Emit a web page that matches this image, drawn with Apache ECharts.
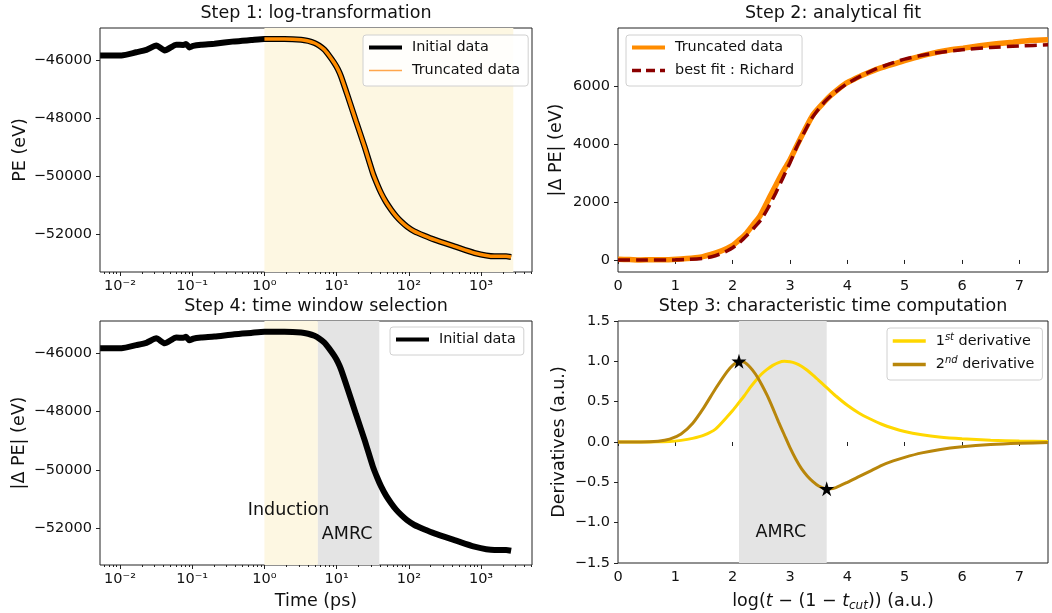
<!DOCTYPE html>
<html>
<head>
<meta charset="utf-8">
<script src="https://cdn.jsdelivr.net/npm/echarts@6.0.0/dist/echarts.min.js"></script>
<style>
  html, body { margin: 0; padding: 0; background: #fff; }
  #chart { width: 1052px; height: 613px; }
</style>
</head>
<body>
<div id="chart"></div>
<script>
// --- data ---
// initial potential energy trace (time in ps, PE in eV)
const timePs = [0.0053, 0.0105, 0.0168, 0.0232, 0.0318, 0.0415, 0.0602, 0.075, 0.082, 0.0915, 0.103, 0.133, 0.203, 0.384, 0.654, 1.0,
  1.89, 3.22, 4.03, 4.93, 5.72, 6.77, 7.85, 9.3, 10.4, 11.5, 14.3, 18.6, 24.3, 31.7, 36.3, 41.3, 48.4, 56.9, 66.6, 78.2,
  94.5, 119.5, 162, 226, 428, 810, 1534, 2225, 2610];
const peInitial = [-45828, -45828, -45720, -45640, -45484, -45656, -45460, -45470, -45435, -45553, -45500, -45460, -45425, -45346, -45300, -45263,
  -45263, -45287, -45330, -45401, -45490, -45632, -45830, -46090, -46300, -46550, -47239, -48100, -48960, -49876, -50250, -50564, -50880, -51139, -51360, -51542,
  -51720, -51886, -52030, -52172, -52402, -52629, -52746, -52746, -52770];
const truncStartPs = 1;
const truncEndPs = 2800;

// step 2: |dPE| vs log-time
const truncX = [0, 0.2, 0.38, 0.6, 0.8, 1.02, 1.2, 1.35, 1.48, 1.62, 1.77, 1.9, 2.01, 2.12, 2.24, 2.35, 2.47, 2.56, 2.65, 2.76, 2.88, 3.0,
  3.11, 3.25, 3.4, 3.55, 3.69, 3.84, 3.98, 4.13, 4.28, 4.57, 4.86, 5.15, 5.44, 5.73, 6.02, 6.31, 6.6, 6.89, 7.18, 7.5];
const truncY = [23, 15, 0, 10, 5, 23, 50, 80, 115, 190, 287, 400, 517, 700, 919, 1200, 1494, 1830, 2183, 2600, 3050, 3450,
  3900, 4450, 4998, 5340, 5630, 5880, 6090, 6240, 6377, 6607, 6779, 6951, 7101, 7216, 7296, 7377, 7446, 7503, 7560, 7583];
const fitX = [0, 0.5, 1.0, 1.25, 1.5, 1.65, 1.8, 1.9, 2.0, 2.12, 2.25, 2.37, 2.5, 2.62, 2.75, 2.87, 3.0, 3.12, 3.25, 3.37, 3.5,
  3.62, 3.75, 3.87, 4.0, 4.25, 4.5, 4.75, 5.0, 5.25, 5.5, 6.0, 6.5, 7.0, 7.5];
const fitY = [0, 0, 5, 25, 60, 120, 220, 310, 420, 600, 850, 1100, 1400, 1800, 2300, 2800, 3350, 3900, 4400, 4850, 5200,
  5480, 5720, 5900, 6080, 6350, 6580, 6760, 6920, 7030, 7120, 7240, 7320, 7370, 7410];

// step 3: normalised derivatives
const derivX = [0, 0.4, 0.7, 0.9, 1.1, 1.3, 1.5, 1.7, 1.9, 2.0, 2.1, 2.2, 2.3, 2.4, 2.5, 2.6, 2.7, 2.8, 2.9, 3.0,
  3.1, 3.2, 3.3, 3.4, 3.5, 3.6, 3.7, 3.8, 4.0, 4.2, 4.4, 4.6, 4.8, 5.0, 5.3, 5.6, 6.0, 6.5, 7.0, 7.5];
const firstDeriv = [0, 0, 0.002, 0.005, 0.02, 0.045, 0.085, 0.16, 0.31, 0.39, 0.48, 0.57, 0.67, 0.76, 0.84, 0.90, 0.95, 0.985, 1.0, 0.995,
  0.975, 0.94, 0.89, 0.83, 0.765, 0.70, 0.635, 0.57, 0.455, 0.36, 0.285, 0.22, 0.17, 0.13, 0.09, 0.062, 0.04, 0.022, 0.012, 0.006];
const secondDeriv = [0, 0, 0.01, 0.035, 0.10, 0.23, 0.43, 0.66, 0.87, 0.95, 0.995, 0.99, 0.93, 0.84, 0.72, 0.58, 0.42, 0.25, 0.09, -0.07,
  -0.21, -0.33, -0.42, -0.49, -0.545, -0.575, -0.58, -0.565, -0.50, -0.43, -0.36, -0.29, -0.235, -0.19, -0.135, -0.095, -0.06, -0.032, -0.016, -0.007];
const extremaPoints = [[2.11, 1.0], [3.64, -0.58]];
const amrcStart = 2.11;
const amrcEnd = 3.64;

// step 4: windows on the time axis
const inductionWindowPs = [1, 5.5];
const amrcWindowPs = [5.5, 39];

// tick labels
const logTickValues = [0.01, 0.1, 1, 10, 100, 1000];
const logTickLabels = ['10⁻²', '10⁻¹', '10⁰', '10¹', '10²', '10³'];
const peTicks = [-52000, -50000, -48000, -46000];
const dpeTicks = [0, 2000, 4000, 6000];
const logAxisTicks = [0, 1, 2, 3, 4, 5, 6, 7];

const minorLogTicks = [];
for (let k = -3; k <= 3; k++) {
  for (let m = 2; m <= 9; m++) minorLogTicks.push(m * Math.pow(10, k));
}

// --- chart ---
const FONT = 'DejaVu Sans';
const INK = '#111';
const toPairs = (xs, ys) => xs.map((x, i) => [x, ys[i]]);
const minus = v => String(v).replace('-', '−');
const logLabel = v => {
  const i = logTickValues.findIndex(t => Math.abs(Math.log10(t) - Math.log10(v)) < 1e-6);
  return i >= 0 ? logTickLabels[i] : '';
};

const grids = [
  { left: 100, top: 28, width: 432, height: 244 },   // step 1
  { left: 618, top: 28, width: 430, height: 244 },   // step 2
  { left: 100, top: 321, width: 432, height: 244 },  // step 4
  { left: 618, top: 321, width: 430, height: 244 }   // step 3
].map(g => Object.assign(g, { show: true, borderColor: '#222', borderWidth: 1, backgroundColor: 'transparent' }));

const tickLabel = { color: INK, fontSize: 14.5, fontFamily: FONT };
const axisName = { color: INK, fontSize: 17.5, fontFamily: FONT };
const tick = { show: true, length: 4, lineStyle: { color: '#222' } };

function logAxis(gridIndex, name) {
  return [{
    type: 'log', gridIndex, position: 'bottom', min: 0.00528, max: 5080, logBase: 10,
    name: name || '', nameLocation: 'middle', nameGap: 27, nameTextStyle: axisName,
    axisLine: { show: false },
    axisTick: Object.assign({ customValues: logTickValues }, tick),
    axisLabel: Object.assign({ customValues: logTickValues, margin: 7, formatter: logLabel }, tickLabel),
    splitLine: { show: false }
  }, {
    type: 'log', gridIndex, position: 'bottom', min: 0.00528, max: 5080, logBase: 10,
    axisLine: { show: false },
    axisTick: { show: true, length: 2, customValues: minorLogTicks, lineStyle: { color: '#222' } },
    axisLabel: { show: false },
    splitLine: { show: false }
  }];
}

function linAxis(gridIndex, name) {
  return {
    type: 'value', gridIndex, min: 0, max: 7.5,
    name: name || '', nameLocation: 'middle', nameGap: 27,
    nameTextStyle: Object.assign({
      rich: {
        i: { fontStyle: 'italic', fontSize: 17.5, fontFamily: FONT, color: INK },
        sub: { fontStyle: 'italic', fontSize: 12, fontFamily: FONT, color: INK, padding: [10, 0, 0, 0] }
      }
    }, axisName),
    axisLine: { show: false },
    axisTick: Object.assign({ customValues: logAxisTicks }, tick),
    axisLabel: Object.assign({ customValues: logAxisTicks, margin: 7 }, tickLabel),
    splitLine: { show: false }
  };
}

const legendBase = {
  orient: 'vertical', itemWidth: 33, itemHeight: 14, itemGap: 6,
  backgroundColor: 'rgba(255,255,255,0.85)', borderColor: '#d0d0d0', borderWidth: 1, borderRadius: 3,
  padding: [4, 8, 7, 4],
  itemStyle: { opacity: 0 },
  textStyle: { color: INK, fontSize: 14.4, fontFamily: FONT, lineHeight: 17, padding: [0, 0, 0, 5],
    rich: { sup: { fontSize: 10, fontStyle: 'italic', fontFamily: FONT, color: INK, padding: [0, 0, 8, 0] } } }
};

const titleStyle = { fontSize: 17.5, fontWeight: 'normal', color: INK, fontFamily: FONT };
const noteLabel = { show: true, position: [0, 0], align: 'center', verticalAlign: 'middle', opacity: 1,
  color: INK, fontSize: 17.5, fontFamily: FONT, formatter: p => p.data[2] };
const lineCommon = { type: 'line', symbol: 'none', smooth: 0.2 };

const option = {
  animation: false,
  backgroundColor: '#fff',
  title: [
    { text: 'Step 1: log-transformation', left: 316, top: 4, textAlign: 'center', padding: 0, textStyle: titleStyle },
    { text: 'Step 2: analytical fit', left: 833, top: 4, textAlign: 'center', padding: 0, textStyle: titleStyle },
    { text: 'Step 4: time window selection', left: 316, top: 297, textAlign: 'center', padding: 0, textStyle: titleStyle },
    { text: 'Step 3: characteristic time computation', left: 833, top: 297, textAlign: 'center', padding: 0, textStyle: titleStyle }
  ],
  grid: grids,
  legend: [
    Object.assign({}, legendBase, { left: 363, top: 35, data: [
      { name: 'Initial data', lineStyle: { width: 4, color: '#000' } },
      { name: 'Truncated data', lineStyle: { width: 1.5, color: '#ffa64d' } }
    ] }),
    Object.assign({}, legendBase, { left: 626, top: 35, data: [
      { name: 'Truncated data', lineStyle: { width: 4, color: '#ff8c00' } },
      { name: 'best fit : Richard', lineStyle: { width: 3.5, color: '#8b0000', type: [9, 5] } }
    ] }),
    Object.assign({}, legendBase, { left: 390, top: 327, data: [
      { name: 'Initial data', lineStyle: { width: 4, color: '#000' } }
    ] }),
    Object.assign({}, legendBase, { left: 887, top: 328, data: [
      { name: '1st derivative', lineStyle: { width: 3.5, color: '#ffd700' } },
      { name: '2nd derivative', lineStyle: { width: 3.5, color: '#b8860b' } }
    ], formatter: n => n === '1st derivative' ? '1{sup|st} derivative' : '2{sup|nd} derivative' })
  ],
  xAxis: [
    ...logAxis(0),
    linAxis(1),
    ...logAxis(2, 'Time (ps)'),
    linAxis(3, 'log({i|t} − (1 − {i|t}{sub|cut})) (a.u.)')
  ],
  yAxis: [
    { type: 'value', gridIndex: 0, min: -53284, max: -44885, name: 'PE (eV)', nameLocation: 'middle', nameGap: 70,
      nameTextStyle: axisName, axisLine: { show: false }, splitLine: { show: false },
      axisTick: Object.assign({ customValues: peTicks }, tick),
      axisLabel: Object.assign({ customValues: peTicks, margin: 8, formatter: minus }, tickLabel) },
    { type: 'value', gridIndex: 1, min: -414, max: 7990, name: '|Δ PE| (eV)', nameLocation: 'middle', nameGap: 53,
      nameTextStyle: axisName, axisLine: { show: false }, splitLine: { show: false },
      axisTick: Object.assign({ customValues: dpeTicks }, tick),
      axisLabel: Object.assign({ customValues: dpeTicks, margin: 8, formatter: minus }, tickLabel) },
    { type: 'value', gridIndex: 2, min: -53258, max: -44892, name: '|Δ PE| (eV)', nameLocation: 'middle', nameGap: 72,
      nameTextStyle: axisName, axisLine: { show: false }, splitLine: { show: false },
      axisTick: Object.assign({ customValues: peTicks }, tick),
      axisLabel: Object.assign({ customValues: peTicks, margin: 8, formatter: minus }, tickLabel) },
    { type: 'value', gridIndex: 3, min: -1.5, max: 1.5, interval: 0.5, name: 'Derivatives (a.u.)', nameLocation: 'middle', nameGap: 50,
      nameTextStyle: axisName, axisLine: { show: false }, splitLine: { show: false },
      axisTick: tick,
      axisLabel: Object.assign({ margin: 8, formatter: v => minus(v.toFixed(1)) }, tickLabel) }
  ],
  series: [
    // step 1
    { type: 'line', xAxisIndex: 0, yAxisIndex: 0, data: [], z: 1, silent: true,
      markArea: { silent: true, itemStyle: { color: '#fdf7e2' }, data: [[{ xAxis: truncStartPs }, { xAxis: truncEndPs }]] } },
    Object.assign({ name: 'Initial data', xAxisIndex: 0, yAxisIndex: 0,
      lineStyle: { color: '#000', width: 6 }, data: toPairs(timePs, peInitial) }, lineCommon),
    Object.assign({ name: 'Truncated data', xAxisIndex: 0, yAxisIndex: 0,
      lineStyle: { color: '#ff8c00', width: 3.5 },
      data: toPairs(timePs, peInitial).filter(p => p[0] >= truncStartPs) }, lineCommon),
    // step 2
    Object.assign({ name: 'Truncated data', xAxisIndex: 2, yAxisIndex: 1,
      lineStyle: { color: '#ff8c00', width: 5.5 }, data: toPairs(truncX, truncY) }, lineCommon),
    Object.assign({ name: 'best fit : Richard', xAxisIndex: 2, yAxisIndex: 1,
      lineStyle: { color: '#8b0000', width: 3.5, type: [12, 6] }, data: toPairs(fitX, fitY) }, lineCommon),
    // step 4
    { type: 'line', xAxisIndex: 3, yAxisIndex: 2, data: [], z: 1, silent: true,
      markArea: { silent: true, data: [
        [{ xAxis: inductionWindowPs[0], itemStyle: { color: '#fdf7e2' } }, { xAxis: inductionWindowPs[1] }],
        [{ xAxis: amrcWindowPs[0], itemStyle: { color: '#e4e4e4' } }, { xAxis: amrcWindowPs[1] }]
      ] } },
    Object.assign({ name: 'Initial data', xAxisIndex: 3, yAxisIndex: 2,
      lineStyle: { color: '#000', width: 6 }, data: toPairs(timePs, peInitial) }, lineCommon),
    { type: 'scatter', xAxisIndex: 3, yAxisIndex: 2, symbolSize: 0, silent: true, z: 6,
      itemStyle: { opacity: 1, color: 'transparent' }, label: noteLabel,
      data: [[2.16, -51373, 'Induction'], [13.97, -52196, 'AMRC']] },
    // step 3
    { type: 'line', xAxisIndex: 5, yAxisIndex: 3, data: [], z: 1, silent: true,
      markArea: { silent: true, itemStyle: { color: '#e4e4e4' }, data: [[{ xAxis: amrcStart }, { xAxis: amrcEnd }]] } },
    Object.assign({ name: '1st derivative', xAxisIndex: 5, yAxisIndex: 3,
      lineStyle: { color: '#ffd700', width: 3 }, data: toPairs(derivX, firstDeriv) }, lineCommon),
    Object.assign({ name: '2nd derivative', xAxisIndex: 5, yAxisIndex: 3,
      lineStyle: { color: '#b8860b', width: 3 }, data: toPairs(derivX, secondDeriv) }, lineCommon),
    { type: 'scatter', xAxisIndex: 5, yAxisIndex: 3, z: 5, silent: true,
      symbol: 'path://M50,0 L61,35 L98,35 L68,57 L79,91 L50,70 L21,91 L32,57 L2,35 L39,35 Z',
      symbolSize: 15, itemStyle: { color: '#000', opacity: 1 }, data: extremaPoints },
    { type: 'scatter', xAxisIndex: 5, yAxisIndex: 3, symbolSize: 0, silent: true, z: 6,
      itemStyle: { opacity: 1, color: 'transparent' }, label: noteLabel,
      data: [[2.84, -1.12, 'AMRC']] }
  ]
};

const chart = echarts.init(document.getElementById('chart'), null, { renderer: 'canvas' });
chart.setOption(option);
window.addEventListener('resize', () => chart.resize());
</script>
</body>
</html>
